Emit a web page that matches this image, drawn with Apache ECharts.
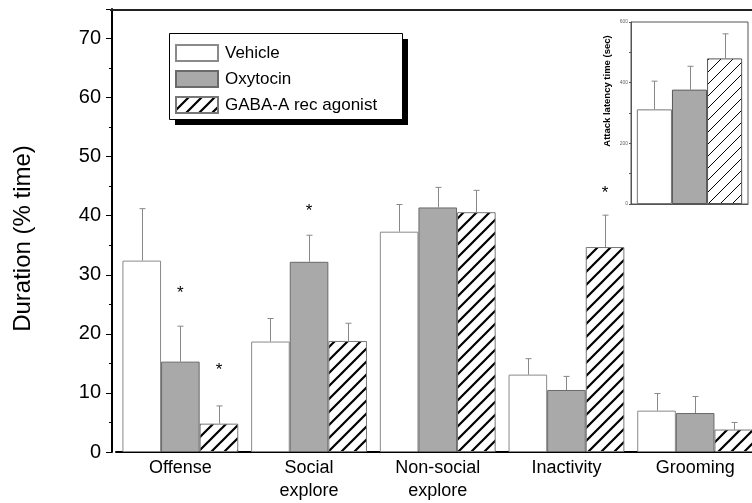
<!DOCTYPE html>
<html>
<head>
<meta charset="utf-8">
<script src="https://cdn.jsdelivr.net/npm/echarts@6/dist/echarts.min.js"></script>
<style>
  html, body { margin: 0; padding: 0; background: #fff; }
  #chart { width: 752px; height: 503px; }
</style>
</head>
<body>
<div id="chart"></div>
<script>
// categories + values
const categories = ["Offense", "Social\nexplore", "Non-social\nexplore", "Inactivity", "Grooming"];
const seriesNames = ["Vehicle", "Oxytocin", "GABA-A rec agonist"];
const vehicle = [32.4, 18.7, 37.3, 13.1, 7.0];
const oxytocin = [15.3, 32.2, 41.4, 10.5, 6.6];
const gaba = [4.8, 18.8, 40.6, 34.7, 3.8];
// top of the (upper) error bars
const vehicleErr = [41.2, 22.6, 41.9, 15.8, 9.9];
const oxytocinErr = [21.3, 36.7, 44.8, 12.8, 9.4];
const gabaErr = [7.8, 21.8, 44.3, 40.1, 5.0];
// asterisks (value where the * sits), null = none
const oxytocinStar = [27.5, 41.5, null, null, null];
const gabaStar = [14.5, null, null, 44.4, null];
const yTicks = [0, 10, 20, 30, 40, 50, 60, 70];

// inset: attack latency time
const insetMeans = [312, 377, 480];
const insetErr = [405, 454, 561];
const insetTicks = [0, 200, 400, 600];

const FONT = "Liberation Sans, Arial, sans-serif";

// diagonal hatch "/" pattern
function hatch(size, lw) {
  const c = document.createElement("canvas");
  c.width = size; c.height = size;
  const ctx = c.getContext("2d");
  ctx.fillStyle = "#fff";
  ctx.fillRect(0, 0, size, size);
  ctx.strokeStyle = "#000";
  ctx.lineWidth = lw;
  ctx.beginPath();
  ctx.moveTo(0, size); ctx.lineTo(size, 0);
  ctx.moveTo(-size / 2, size / 2); ctx.lineTo(size / 2, -size / 2);
  ctx.moveTo(size / 2, size * 1.5); ctx.lineTo(size * 1.5, size / 2);
  ctx.stroke();
  return c;
}

const styles = [
  { color: "#fff", borderColor: "#8a8a8a", borderWidth: 1 },
  { color: "#a9a9a9", borderColor: "#6a6a6a", borderWidth: 1 },
  { color: { image: hatch(13, 2.2), repeat: "repeat" }, borderColor: "#777", borderWidth: 1 }
];
const insetStyles = [
  { color: "#fff", borderColor: "#777", borderWidth: 1 },
  { color: "#a9a9a9", borderColor: "#555", borderWidth: 1 },
  { color: { image: hatch(12, 1), repeat: "repeat" }, borderColor: "#555", borderWidth: 1 }
];

// upward error bar with a small cap, shifted to the idx-th bar of the group
function errSeries(means, tops, idx, axis) {
  return {
    type: "custom",
    xAxisIndex: axis, yAxisIndex: axis,
    z: 5,
    silent: true,
    data: means.map((v, i) => [i, v, tops[i]]),
    renderItem(params, api) {
      const b = api.coord([api.value(0), api.value(1)]);
      const t = api.coord([api.value(0), api.value(2)]);
      const bw = api.size([1, 0])[0] * 0.9 / 3;
      const x = Math.round(b[0] + (idx - 1) * bw) + 0.5;
      const st = { stroke: "#888", lineWidth: 1 };
      return {
        type: "group",
        children: [
          { type: "line", shape: { x1: x, y1: b[1], x2: x, y2: t[1] }, style: st },
          { type: "line", shape: { x1: x - 3, y1: t[1], x2: x + 3, y2: t[1] }, style: st }
        ]
      };
    }
  };
}

function starSeries(stars, idx) {
  return {
    type: "custom",
    z: 6,
    silent: true,
    data: stars.map((v, i) => [i, v]).filter(d => d[1] != null),
    renderItem(params, api) {
      const p = api.coord([api.value(0), api.value(1)]);
      const bw = api.size([1, 0])[0] * 0.9 / 3;
      return {
        type: "text",
        x: p[0] + (idx - 1) * bw,
        y: p[1] + 4,
        style: { text: "*", fontSize: 17, fontFamily: FONT, fill: "#000", align: "center", verticalAlign: "middle" }
      };
    }
  };
}

const mainData = [vehicle, oxytocin, gaba];
const mainErr = [vehicleErr, oxytocinErr, gabaErr];

const series = [];
mainData.forEach((d, i) => {
  series.push({
    name: seriesNames[i],
    type: "bar",
    data: d,
    barGap: "0%",
    barCategoryGap: "10%",
    itemStyle: styles[i]
  });
});
mainData.forEach((d, i) => series.push(errSeries(d, mainErr[i], i, 0)));
series.push(starSeries(oxytocinStar, 1));
series.push(starSeries(gabaStar, 2));

insetMeans.forEach((v, i) => {
  series.push({
    name: "inset" + i,
    type: "bar",
    xAxisIndex: 1, yAxisIndex: 1,
    data: [v],
    barGap: "0%",
    barCategoryGap: "10%",
    itemStyle: insetStyles[i],
    z: 4
  });
});
insetMeans.forEach((v, i) => series.push(errSeries([v], [insetErr[i]], i, 1)));

const chart = echarts.init(document.getElementById("chart"));
chart.setOption({
  animation: false,
  backgroundColor: "#fff",
  textStyle: { fontFamily: FONT },
  grid: [
    { left: 116, top: 9, width: 643.5, height: 443, outerBoundsMode: "none" },
    { left: 631, top: 22, width: 117, height: 182, outerBoundsMode: "none", show: true, borderColor: "#555", borderWidth: 1, backgroundColor: "#fff" }
  ],
  xAxis: [
    {
      type: "category",
      data: categories,
      axisLine: { lineStyle: { color: "#000", width: 2 } },
      axisTick: { show: false },
      axisLabel: { fontSize: 18, color: "#000", margin: 5, lineHeight: 23, fontFamily: FONT }
    },
    {
      type: "category", gridIndex: 1, data: [""],
      axisLine: { lineStyle: { color: "#555", width: 1 } },
      axisTick: { show: false }, axisLabel: { show: false }
    }
  ],
  yAxis: [
    {
      type: "value",
      min: 0, max: 75, interval: 10,
      offset: 4,
      name: "Duration (% time)",
      nameLocation: "middle",
      nameGap: 77,
      nameTextStyle: { fontSize: 24, color: "#000", fontFamily: FONT, padding: [0, 16, 0, 0] },
      axisLine: { show: true, lineStyle: { color: "#000", width: 2 } },
      axisTick: { show: true, length: 6, lineStyle: { color: "#000", width: 1 } },
      minorTick: { show: true, splitNumber: 2, length: 3, lineStyle: { color: "#000" } },
      splitLine: { show: false },
      axisLabel: {
        fontSize: 20, color: "#000", margin: 11, fontFamily: FONT,
        formatter: v => (yTicks.indexOf(v) >= 0 ? String(v) : "")
      }
    },
    {
      type: "value", gridIndex: 1,
      min: 0, max: 600, interval: 200,
      name: "Attack latency time (sec)",
      nameLocation: "middle",
      nameGap: 19,
      nameTextStyle: { fontSize: 9.5, fontWeight: "bold", color: "#000", fontFamily: FONT, padding: [0, 0, 0, 44] },
      axisLine: { show: true, lineStyle: { color: "#555", width: 1 } },
      axisTick: { show: true, length: 2, lineStyle: { color: "#555" } },
      minorTick: { show: true, splitNumber: 2, length: 2, lineStyle: { color: "#555" } },
      splitLine: { show: false },
      axisLabel: {
        fontSize: 5, color: "#666", margin: 3,
        formatter: v => (insetTicks.indexOf(v) >= 0 ? String(v) : "")
      }
    }
  ],
  legend: {
    data: seriesNames,
    orient: "vertical",
    left: 170, top: 39,
    itemWidth: 42, itemHeight: 16, itemGap: 8,
    icon: "rect",
    textStyle: { fontSize: 17, color: "#000", fontFamily: FONT, padding: [0, 0, 0, 2] },
    z: 20
  },
  graphic: {
    elements: [
      { type: "line", shape: { x1: 110, y1: 10, x2: 752, y2: 10 }, style: { stroke: "#222", lineWidth: 2 }, z: 10 },
      { type: "rect", shape: { x: 175, y: 39, width: 233, height: 86 }, style: { fill: "#000" }, z: 10 },
      { type: "rect", shape: { x: 169.5, y: 33.5, width: 233, height: 86 }, style: { fill: "#fff", stroke: "#000", lineWidth: 1 }, z: 11 }
    ]
  },
  series: series
});
</script>
</body>
</html>
